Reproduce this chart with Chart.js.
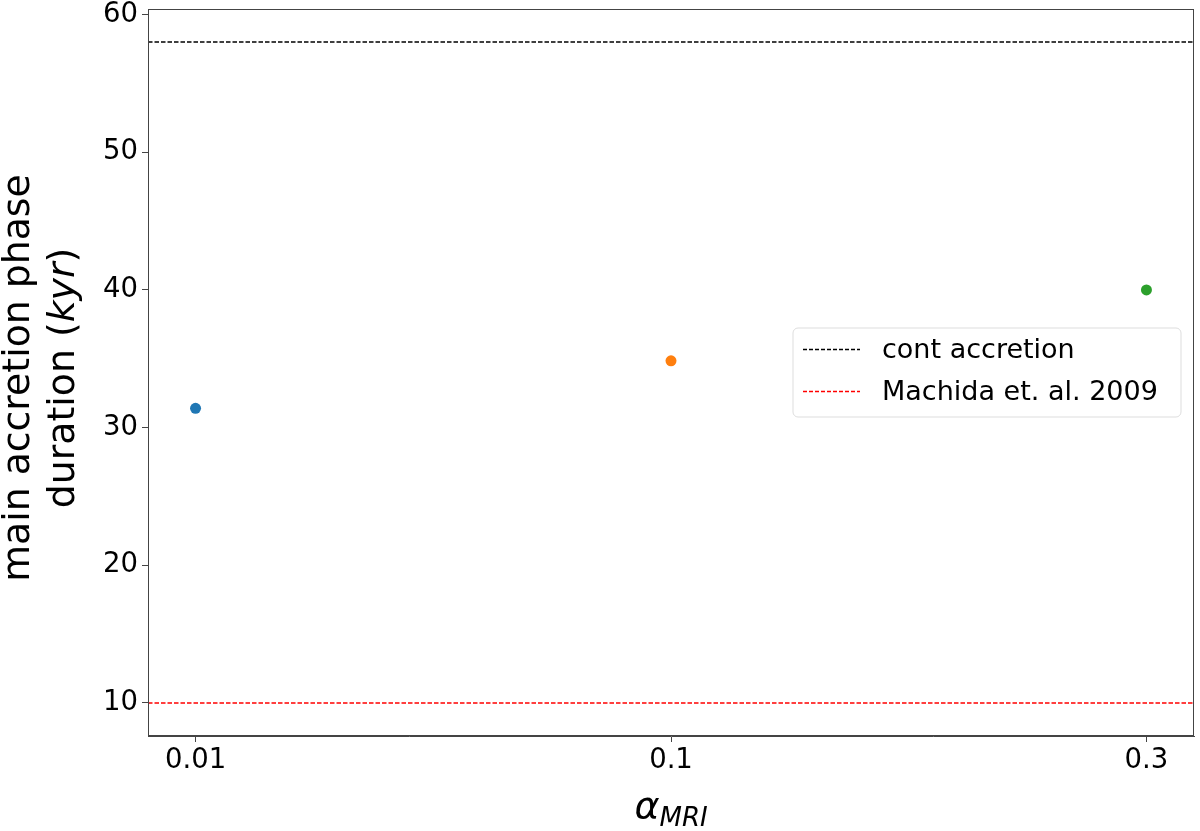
<!DOCTYPE html>
<html>
<head>
<meta charset="utf-8">
<script src="https://cdn.jsdelivr.net/npm/chart.js@4.4.1/dist/chart.umd.min.js"></script>
<style>
  html, body { margin: 0; padding: 0; background: #fff; }
  #wrap { position: relative; width: 1200px; height: 831px; }
  canvas { position: absolute; left: 0; top: 0; }
  .ytitle {
    position: absolute; left: 39px; top: 378px; width: 560px;
    font-family: 'DejaVu Sans', sans-serif; font-size: 37.8px; line-height: 45px;
    text-align: center; color: #000; white-space: nowrap;
    transform: translate(-50%, -50%) rotate(-90deg);
  }
  .xtitle {
    position: absolute; left: 671px; top: 786px; transform: translateX(-50%);
    font-family: 'DejaVu Sans', sans-serif; font-size: 38px; line-height: 38px;
    font-style: italic; color: #000; white-space: nowrap;
  }
  .xtitle .sub { font-size: 26px; position: relative; top: 8px; }
</style>
</head>
<body>
<div id="wrap">
  <canvas id="c" width="1200" height="831"></canvas>
  <div class="ytitle">main accretion phase<br>duration (<i>kyr</i>)</div>
  <div class="xtitle">α<span class="sub">MRI</span></div>
</div>
<script>
// ---- data ----
const categories = ['0.01', '0.1', '0.3'];
const durations = [31.4, 34.85, 40.0];
const pointColors = ['#1f77b4', '#ff7f0e', '#2ca02c'];
const yTicks = [10, 20, 30, 40, 50, 60];
const contAccretion = 58;
const machida2009 = 10;
const refLabels = ['cont accretion', 'Machida et. al. 2009'];
const refColors = ['#000000', '#ff0000'];
const xMin = -0.1, xMax = 2.1;
const yMin = 7.6, yMax = 60.4;

const FONT = "'DejaVu Sans', sans-serif";

const framePlugin = {
  id: 'frame',
  afterDatasetsDraw(chart) {
    const { ctx, chartArea: a } = chart;
    ctx.save();
    ctx.strokeStyle = '#444';
    ctx.lineWidth = 1;
    ctx.strokeRect(a.left + 0.5, a.top + 0.5, a.right - a.left - 1, a.bottom - a.top - 1);
    ctx.restore();
  },
  afterDraw(chart) {
    const { ctx } = chart;
    const bx = 793, by = 328, bw = 388, bh = 89, r = 5;
    ctx.save();
    ctx.beginPath();
    ctx.moveTo(bx + r, by);
    ctx.arcTo(bx + bw, by, bx + bw, by + bh, r);
    ctx.arcTo(bx + bw, by + bh, bx, by + bh, r);
    ctx.arcTo(bx, by + bh, bx, by, r);
    ctx.arcTo(bx, by, bx + bw, by, r);
    ctx.closePath();
    ctx.fillStyle = 'rgba(255,255,255,0.8)';
    ctx.fill();
    ctx.strokeStyle = '#dddddd';
    ctx.lineWidth = 1;
    ctx.stroke();
    const rows = [349.5, 391.5];
    refLabels.forEach((lab, i) => {
      ctx.beginPath();
      ctx.setLineDash([4, 2]);
      ctx.strokeStyle = refColors[i];
      ctx.lineWidth = 1.5;
      ctx.moveTo(803, rows[i]);
      ctx.lineTo(860, rows[i]);
      ctx.stroke();
      ctx.setLineDash([]);
      ctx.fillStyle = '#000';
      ctx.font = '27px ' + FONT;
      ctx.textBaseline = 'middle';
      ctx.textAlign = 'left';
      ctx.fillText(lab, 882, rows[i] + 1);
    });
    ctx.restore();
  }
};

new Chart(document.getElementById('c'), {
  type: 'scatter',
  data: {
    datasets: [
      {
        type: 'line',
        label: refLabels[0],
        data: [{ x: xMin, y: contAccretion }, { x: xMax, y: contAccretion }],
        borderColor: refColors[0], borderWidth: 1.5, borderDash: [4.5, 2],
        pointRadius: 0, fill: false
      },
      {
        type: 'line',
        label: refLabels[1],
        data: [{ x: xMin, y: machida2009 }, { x: xMax, y: machida2009 }],
        borderColor: refColors[1], borderWidth: 1.5, borderDash: [4.5, 2],
        pointRadius: 0, fill: false
      },
      {
        label: 'duration',
        data: durations.map((v, i) => ({ x: i, y: v })),
        pointBackgroundColor: pointColors,
        pointBorderColor: pointColors,
        pointRadius: 5.5, pointBorderWidth: 0
      }
    ]
  },
  options: {
    responsive: false,
    animation: false,
    layout: { padding: { left: 0, right: 6, top: 9, bottom: 0 } },
    plugins: { legend: { display: false }, tooltip: { enabled: false } },
    scales: {
      x: {
        type: 'linear', min: xMin, max: xMax,
        afterBuildTicks(s) { s.ticks = categories.map((_, i) => ({ value: i })); },
        afterFit(s) { s.height = 95; s.paddingLeft = 0; s.paddingRight = 0; },
        ticks: {
          callback: (v) => categories[v] !== undefined ? categories[v] : '',
          font: { family: FONT, size: 27.5 }, color: '#000', padding: 2, maxRotation: 0
        },
        grid: { display: true, drawOnChartArea: false, drawTicks: true, tickLength: 6, tickColor: '#444' },
        border: { display: true, color: '#444', width: 1 }
      },
      y: {
        min: yMin, max: yMax,
        afterBuildTicks(s) { s.ticks = yTicks.map(v => ({ value: v })); },
        afterFit(s) { s.width = 148; s.paddingTop = 0; s.paddingBottom = 0; },
        ticks: {
          font: { family: FONT, size: 27.5 }, color: '#000', padding: 4
        },
        grid: { display: true, drawOnChartArea: false, drawTicks: true, tickLength: 6, tickColor: '#444' },
        border: { display: true, color: '#444', width: 1 }
      }
    }
  },
  plugins: [framePlugin]
});
</script>
</body>
</html>
